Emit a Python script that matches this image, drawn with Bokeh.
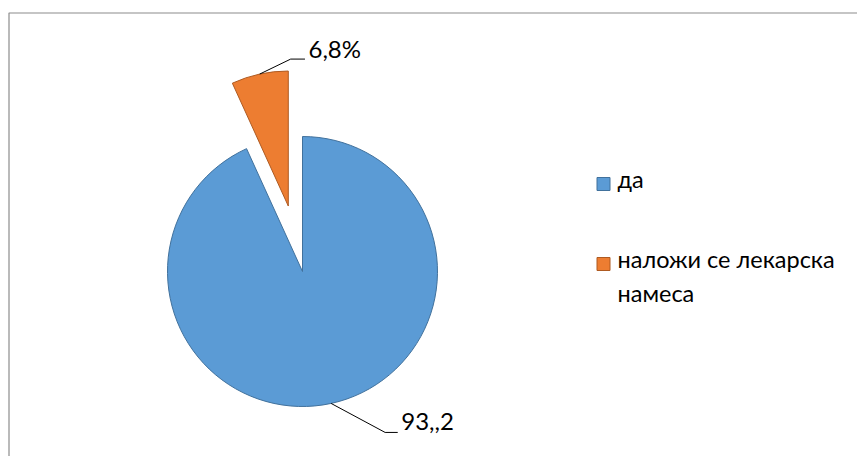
import numpy as np
from bokeh.plotting import figure
from bokeh.models import Range1d
from bokeh.embed import file_html
from bokeh.resources import INLINE
from bokeh.core.properties import value

# ---- data ----
categories = ["да", "наложи се лекарска намеса"]
legend_lines = [["да"], ["наложи се лекарска", "намеса"]]
values = [93.2, 6.8]
data_labels = ["93,,2", "6,8%"]

# ---- style / layout ----
colors = ["#5B9BD5", "#ED7D31"]
edge_colors = ["#41719C", "#AE5A21"]
explode = [0, 67]
FONT = "Lato"
FS = "24px"
TXT_DY = 12  # baseline correction

W, H = 857, 456
p = figure(width=W, height=H, x_range=Range1d(0, W), y_range=Range1d(0, H),
           output_backend="svg", toolbar_location=None,
           x_axis_type=None, y_axis_type=None, min_border=0,
           outline_line_color=None)
p.grid.visible = False
p.background_fill_color = "white"
p.border_fill_color = "white"

# chart border (top and left visible)
p.line([8.5, 8.5, W], [0, H - 12.5, H - 12.5], line_color="#8C8C8C", line_width=1.2)

cx, cy, R = 302, 185, 135
vals = np.array(values, dtype=float)
frac = vals / vals.sum()
end_cw = np.cumsum(frac)
start_cw = end_cw - frac
a0 = np.pi / 2 - end_cw * 2 * np.pi
a1 = np.pi / 2 - start_cw * 2 * np.pi
mid = (a0 + a1) / 2
ex = np.array(explode, dtype=float)
xs = cx + ex * np.cos(mid)
ys = cy + ex * np.sin(mid)

p.wedge(x=list(xs), y=list(ys), radius=R, radius_units="screen",
        start_angle=list(a0), end_angle=list(a1),
        fill_color=colors, line_color=edge_colors, line_width=1)

# leader lines + data labels
elbow = [(54, -29), (31, 15)]
tail = [12.6, 14.3]
for i in range(len(values)):
    sx = xs[i] + R * np.cos(mid[i])
    sy = ys[i] + R * np.sin(mid[i])
    exx, eyy = sx + elbow[i][0], sy + elbow[i][1]
    p.line([sx, exx, exx + tail[i]], [sy, eyy, eyy], line_color="black", line_width=1)
    p.text(x=[exx + tail[i] + 3.5], y=[eyy - 1 + TXT_DY], text=[data_labels[i]],
           text_font=value(FONT), text_font_size=FS, text_color="#000000",
           text_baseline="alphabetic", text_align="left")

# legend
leg_x = 603
leg_y = [272.5, 192.5]
line_gap = 34
for i, cat in enumerate(categories):
    p.rect(x=[leg_x], y=[leg_y[i]], width=13, height=13,
           width_units="screen", height_units="screen",
           fill_color=colors[i], line_color=edge_colors[i], line_width=1)
    for j, t in enumerate(legend_lines[i]):
        p.text(x=[leg_x + 14], y=[leg_y[i] - 7 - j * line_gap + TXT_DY], text=[t],
               text_font=value(FONT), text_font_size="23.5px", text_color="#000000",
               text_baseline="alphabetic", text_align="left")

open("out.html", "w").write(file_html(p, INLINE))
